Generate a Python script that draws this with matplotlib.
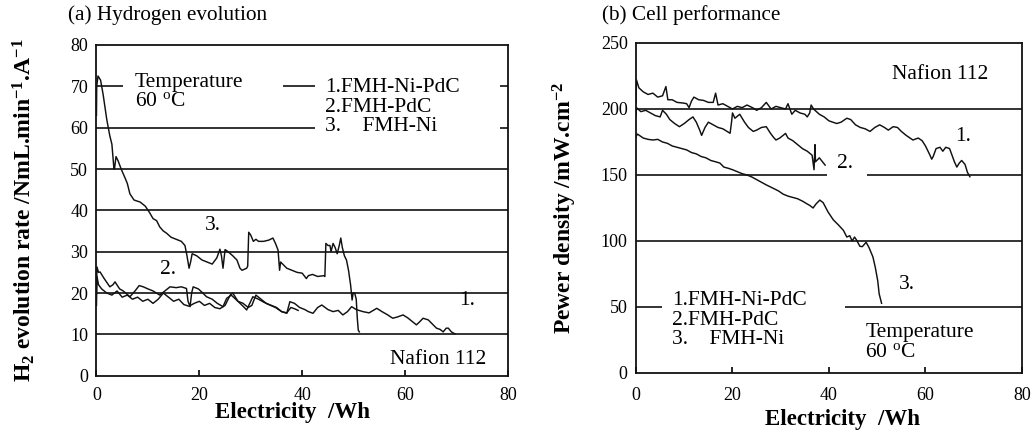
import numpy as np
import matplotlib
matplotlib.use("Agg")
import matplotlib.pyplot as plt
from matplotlib.patches import Rectangle

plt.rcParams["font.family"] = "Liberation Serif"
plt.rcParams["mathtext.fontset"] = "custom"
plt.rcParams["mathtext.rm"] = "Liberation Serif"
plt.rcParams["mathtext.bf"] = "Liberation Serif:bold"
plt.rcParams["mathtext.it"] = "Liberation Serif:italic"

# (a) H2 evolution rate vs electricity, (Wh, NmL/min/A)
h2_nipdc = [(0, 17), (0.1, 24), (0.4, 22), (1, 21), (2, 20), (3, 19.5), (4, 20.5), (5, 19),
            (6, 19.5), (7, 18.5), (8, 19), (9, 18), (10, 18.5), (11, 17.5), (12, 18.5),
            (13, 20), (14, 19), (15, 18), (16, 18.5), (17, 17.2), (18, 16.8), (19, 17.5),
            (20, 18), (21, 17), (22, 17.5), (23, 16.5), (24, 16.2), (25, 17), (26, 19.5),
            (26.5, 20), (27.5, 18), (28.5, 17.5), (29.5, 16.5), (30.2, 17), (31, 19.5),
            (31.8, 18.7), (33, 17.5), (34, 17), (35, 16.5), (36, 15.5), (37, 15.1),
            (37.6, 17.9), (38.5, 17.5), (39.5, 16.5), (40.5, 16), (41.2, 15.5), (42.1, 15.1),
            (43, 16.5), (43.8, 17.1), (45, 16), (46, 15.5), (47, 15.8), (47.9, 14.7),
            (48.8, 15.5), (49.6, 16.7), (50.5, 16), (51.8, 15.5), (53, 15.2), (54.5, 16.3),
            (55.5, 15.5), (56.5, 14.8), (57.6, 13.9), (58.5, 14.2), (59.6, 14.7), (60.5, 14),
            (61.3, 13.2), (62.2, 12.3), (62.8, 13), (63.5, 13.9), (64.5, 13.5), (65.3, 12.5),
            (66.1, 11.5), (66.8, 11.2), (67.4, 10.6), (68.0, 11.5), (68.4, 11.5), (69, 10.6),
            (69.7, 10.1)]
h2_pdc = [(0, 20), (0.1, 26.3), (0.4, 25), (0.7, 25.1), (1.5, 23.5), (2.6, 21.5), (3.2, 22),
          (3.6, 22.7), (4.5, 21), (5.2, 20.5), (6.5, 19.1), (7.5, 20.5), (8.3, 21.8),
          (9.1, 21.5), (10, 21), (11, 20.5), (12.3, 19.5), (13.3, 20.5), (14.3, 21.5),
          (15.5, 21.3), (16.5, 21.5), (17.5, 21.1), (17.8, 18), (18.2, 16.7), (18.5, 20),
          (18.8, 21.5), (19.8, 21), (20.5, 20.2), (21.4, 19.1), (22.5, 18.5), (23.5, 17.5),
          (24.6, 16.7), (25.3, 18.7), (26.2, 19.5), (27.5, 18), (28.5, 16.8), (29.2, 15.9),
          (30.4, 19.1), (31.5, 18.5), (32.5, 17.8), (33.7, 17.1), (34.8, 16.5), (36, 15.5),
          (37, 15.2), (37.8, 16.5), (38.5, 16.2), (39.2, 15.8)]
h2_ni = [(0, 63), (0.05, 70), (0.3, 72.5), (0.8, 71.5), (1.3, 68), (2.0, 62), (2.6, 58),
         (3.0, 56), (3.4, 50), (3.5, 50), (3.8, 53), (4.2, 52), (4.8, 50), (5.5, 48),
         (6.0, 46.5), (6.5, 44), (7.3, 42.5), (8.5, 42), (9.5, 41), (10.3, 39.5), (11.0, 38),
         (11.7, 37.5), (12.3, 36), (13.0, 35), (13.6, 34.5), (14.5, 33.5), (15.5, 33),
         (16.5, 32.5), (17.2, 31.5), (17.6, 29), (18.0, 26), (18.3, 27.5), (18.6, 29.5),
         (19.5, 29), (20.5, 28), (21.5, 27.5), (22.5, 27), (23.4, 28.5), (24.0, 30.6),
         (24.3, 29), (24.6, 26), (25.0, 30.5), (25.6, 30), (26.5, 29), (27.3, 28), (27.9, 26),
         (28.3, 25.5), (29.2, 26), (29.4, 26.5), (29.6, 34.7), (30.0, 34), (30.5, 32.5),
         (31.0, 33), (31.5, 32.5), (32.5, 32.5), (33.5, 32.8), (34.3, 33.3), (34.8, 32),
         (35.3, 30.4), (35.6, 25.5), (35.8, 27.5), (36.2, 27), (37.0, 26), (38.0, 25.5),
         (39.0, 25), (40.0, 24.8), (40.8, 23.5), (41.2, 24.2), (42.0, 24.5), (43.0, 24),
         (44.2, 24.2), (44.4, 24), (44.6, 32), (45.0, 31.5), (45.4, 31.5), (45.6, 30),
         (46.0, 32), (46.4, 31), (46.8, 29.5), (47.2, 31.5), (47.5, 33.3), (47.8, 31),
         (48.2, 29), (48.6, 28), (49.0, 25.5), (49.4, 22), (49.7, 18.3), (49.9, 20),
         (50.2, 20), (50.5, 18.5), (50.7, 14), (50.9, 11), (51.1, 10.6)]

# (b) power density vs electricity, (Wh, mW/cm2)
pd_nipdc = [(0, 205), (0.1, 222), (0.6, 216), (1.5, 213), (2.5, 211), (3.5, 212), (4.5, 209),
            (5.5, 210), (6.2, 217), (6.6, 207), (7.5, 207), (8.5, 205), (9.8, 204.5),
            (10.5, 204), (11, 201), (11.5, 206), (12, 209), (13, 207), (14, 206.5), (15, 205),
            (16, 205), (16.5, 212), (17, 203), (18, 204), (19, 202), (20, 200), (21, 202),
            (22, 201), (23, 203), (24.3, 200.7), (25, 199), (26, 201), (27, 205), (28, 200),
            (29, 202), (30, 201), (31, 200), (31.5, 204), (32.3, 196), (33, 199), (34, 197),
            (35, 196), (35.5, 194), (36, 197), (36.3, 203), (36.8, 200), (38, 196), (39, 194),
            (40, 191), (41.6, 189), (42.5, 190), (43.7, 193), (44.5, 192), (45.5, 188),
            (46.5, 186), (47.5, 185), (48.5, 183), (49.5, 186), (50.5, 188), (51.5, 186),
            (52.3, 184), (53.3, 186.6), (54.2, 186), (55, 183), (56, 180), (57.4, 176.5),
            (58.5, 178), (59.3, 176), (60, 172), (60.8, 166), (61.3, 162), (61.6, 164),
            (62.2, 170), (63, 171), (63.6, 168), (64.2, 171), (65, 170), (65.5, 165), (66, 160),
            (66.5, 156), (67, 159), (67.5, 161), (68.2, 158), (68.7, 152), (69.2, 148.7)]
pd_pdc = [(0, 195), (0.1, 201), (1, 198), (2, 199), (3, 197), (4, 195), (5, 194), (5.5, 199),
          (6.3, 196), (7, 192), (8, 189), (9, 186.6), (10, 189), (11, 192), (11.8, 194),
          (12.5, 190), (13.2, 184), (13.6, 180), (14.3, 186), (15, 190), (16, 188), (17, 186),
          (18, 185), (19.5, 181.6), (19.8, 190), (20, 197), (20.5, 193), (21.5, 196),
          (22.5, 190), (23.3, 186), (24.3, 183), (25, 184), (26, 186), (27, 186.6),
          (27.8, 182), (28.4, 179), (29, 176.5), (29.8, 178), (31, 181.5), (31.5, 178),
          (32.5, 176), (33.5, 173), (34.5, 170), (35.5, 168), (36.5, 165), (36.9, 154),
          (37.1, 173), (37.2, 160), (38, 163), (39.2, 157.5)]
pd_ni = [(0, 179), (0.3, 181), (1.5, 178), (2.5, 177), (3.5, 176.5), (4.5, 177), (5.5, 175),
         (6.5, 174), (7.5, 172), (8.5, 171), (9.5, 170), (10.5, 169), (11.5, 167), (12.5, 166),
         (13.5, 164), (14.5, 163), (15.5, 161), (16.5, 160), (17.4, 159), (18.2, 156),
         (19.2, 155), (20, 154), (21, 152.5), (22, 151), (23, 150), (24, 148.5), (25, 146.5),
         (26, 144.5), (27, 142.5), (28.4, 140), (29.5, 138), (30.5, 135.5), (31.5, 134),
         (32.5, 133), (33.5, 132), (34.6, 130), (35.5, 128), (36.0, 127), (36.7, 125),
         (37.3, 128), (38.1, 131), (38.8, 129), (39.8, 122), (40.9, 116), (42, 112), (43, 108),
         (43.7, 103), (44.3, 104), (44.8, 100), (45.3, 103), (45.7, 100.8), (46.4, 96),
         (46.9, 95.7), (47.7, 99), (48.3, 95), (49.1, 88), (49.6, 80), (50.1, 70),
         (50.4, 60), (50.9, 52.8)]

FS = 15.5  # annotation text size
legend_txt = "1.FMH-Ni-PdC\n2.FMH-PdC\n3.    FMH-Ni"
temp_txt = "Temperature\n60 $^{\\mathrm{o}}$C"

fig = plt.figure(figsize=(10.35, 4.36), dpi=100)
axa = fig.add_axes([0.0932, 0.1383, 0.3976, 0.7585])
axb = fig.add_axes([0.6145, 0.1445, 0.3729, 0.7569])


def style(ax, ymax, ystep, xpad):
    ax.set_xlim(0, 80)
    ax.set_ylim(0, ymax)
    ax.set_xticks(range(0, 81, 20))
    ax.set_yticks(range(0, ymax + 1, ystep))
    for y in range(ystep, ymax, ystep):
        ax.axhline(y, color="#111111", lw=1.2, zorder=1)
    for s in ax.spines.values():
        s.set_linewidth(1.3)
        s.set_color("#111111")
    ax.tick_params(axis="x", direction="in", length=4, width=1.2, pad=xpad, labelsize=13)
    ax.tick_params(axis="y", length=0, pad=6, labelsize=13)


def box(ax, x0, y0, x1, y1):
    ax.add_patch(Rectangle((x0, y0), x1 - x0, y1 - y0, facecolor="white",
                           edgecolor="none", zorder=2))


def curve(ax, pts):
    a = np.array(pts)
    ax.plot(a[:, 0], a[:, 1], color="#111111", lw=1.05, zorder=4)


# ---- (a)
style(axa, 80, 10, 8)
box(axa, 5.2, 64, 36.2, 77)
box(axa, 42.5, 55.5, 78.4, 77)
for pts in (h2_nipdc, h2_pdc, h2_ni):
    curve(axa, pts)
axa.text(7.5, 68.6, temp_txt, fontsize=FS, va="center", ha="left", linespacing=1.05, zorder=3)
axa.text(44.4, 65.0, legend_txt, fontsize=FS, va="center", ha="left", linespacing=1.05,
         zorder=3)
axa.text(22.7, 36.4, "3.", fontsize=FS, ha="center", va="center", zorder=3)
axa.text(13.9, 25.6, "2.", fontsize=FS, ha="center", va="center", zorder=3)
axa.text(72, 18.3, "1.", fontsize=FS, ha="center", va="center", zorder=3)
axa.text(57, 3.8, "Nafion 112", fontsize=FS, ha="left", va="center", zorder=3)
axa.set_xlabel("Electricity  /Wh", fontsize=16.5, fontweight="bold")
axa.xaxis.set_label_coords(0.477, -0.08)
axa.set_ylabel(r"H$_\mathbf{2}$ evolution rate /NmL.min$^\mathbf{-1}$.A$^\mathbf{-1}$",
               fontsize=17, fontweight="bold")
axa.yaxis.set_label_coords(-0.145, 0.5)
fig.text(0.066, 0.966, "(a) Hydrogen evolution", fontsize=15.3, ha="left", va="center")

# ---- (b)
style(axb, 250, 50, 10)
box(axb, 39.6, 140, 47.9, 168)
box(axb, 5.4, 8, 43.3, 70)
for pts in (pd_nipdc, pd_pdc, pd_ni):
    curve(axb, pts)
axb.text(53, 225.8, "Nafion 112", fontsize=FS, ha="left", va="center", zorder=3)
axb.text(67.8, 178.8, "1.", fontsize=FS, ha="center", va="center", zorder=3)
axb.text(43.3, 159, "2.", fontsize=FS, ha="center", va="center", zorder=3)
axb.text(56.2, 66.7, "3.", fontsize=FS, ha="center", va="center", zorder=3)
axb.text(7.5, 40, legend_txt, fontsize=FS, va="center", ha="left", linespacing=1.05, zorder=3)
axb.text(47.5, 23.1, temp_txt, fontsize=FS, va="center", ha="left", linespacing=1.05,
         zorder=3)
axb.set_xlabel("Electricity  /Wh", fontsize=16.5, fontweight="bold")
axb.xaxis.set_label_coords(0.536, -0.108)
axb.set_ylabel(r"Pewer density /mW.cm$^\mathbf{-2}$", fontsize=17, fontweight="bold")
axb.yaxis.set_label_coords(-0.148, 0.5)
fig.text(0.582, 0.966, "(b) Cell performance", fontsize=15.3, ha="left", va="center")

fig.savefig("out.png", dpi=100)
